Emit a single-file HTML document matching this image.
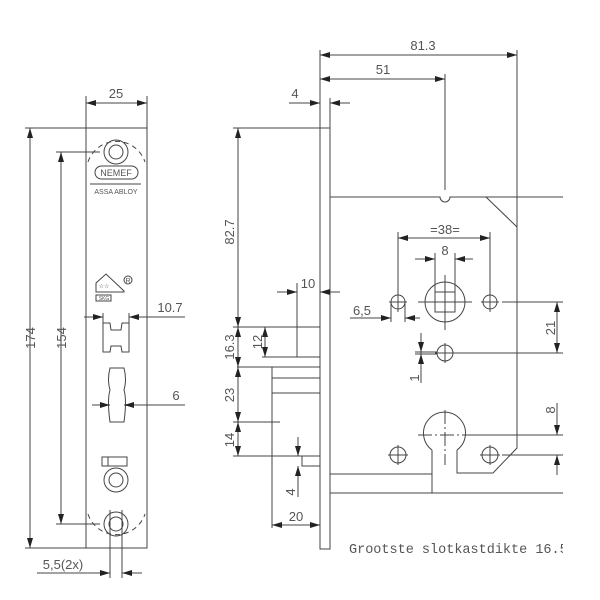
<!DOCTYPE html>
<html><head><style>body{margin:0;background:#fff}svg{display:block}</style></head><body>
<svg width="600" height="600" viewBox="0 0 600 600" xmlns="http://www.w3.org/2000/svg">
<defs>
<marker id="a" viewBox="0 0 10 6" refX="10" refY="3" markerWidth="10" markerHeight="6" orient="auto-start-reverse" markerUnits="userSpaceOnUse"><path d="M0,0 L10,3 L0,6 z" fill="#222"/></marker>
</defs>
<g stroke="#444" stroke-width="1" fill="none">
<rect x="86" y="128" width="61" height="420"/>
<path d="M88,162 A30,30 0 0 1 145,162" stroke-dasharray="5,4"/>
<path d="M88,514 A30,30 0 0 0 145,514" stroke-dasharray="5,4"/>
<circle cx="116" cy="152" r="12"/><circle cx="116" cy="152" r="7"/>
<rect x="95" y="166" width="43" height="13" rx="6.5"/>
<line x1="90" y1="184" x2="141" y2="184"/>
<path d="M96,292 L96,283 L106,274 L124,291 L124,292 Z"/>
<rect x="96" y="295" width="15" height="6"/>
<circle cx="128" cy="280" r="4"/>
<path d="M103,323 L110,323 L111,330 L121,330 L122,323 L129,323 L129,352 L122,352 L121,346 L111,346 L110,352 L103,352 Z"/>
<path d="M110,368 L124,368 Q127,380 124,390 Q127,400 124,422 L110,422 Q107,400 110,390 Q107,380 110,368 Z"/>
<rect x="102" y="457" width="25" height="9"/><line x1="108" y1="457" x2="108" y2="466"/>
<circle cx="116" cy="480" r="12"/><circle cx="116" cy="480" r="7"/>
<circle cx="116" cy="524" r="12"/><circle cx="116" cy="524" r="7"/>
<line x1="86" y1="96" x2="86" y2="128"/><line x1="147" y1="96" x2="147" y2="128"/>
<line x1="86" y1="103" x2="147" y2="103" marker-start="url(#a)" marker-end="url(#a)"/>
<line x1="25" y1="128" x2="86" y2="128"/><line x1="25" y1="548" x2="86" y2="548"/>
<line x1="30" y1="128" x2="30" y2="548" marker-start="url(#a)" marker-end="url(#a)"/>
<line x1="56" y1="152" x2="100" y2="152"/><line x1="56" y1="524" x2="100" y2="524"/>
<line x1="61" y1="152" x2="61" y2="524" marker-start="url(#a)" marker-end="url(#a)"/>
<line x1="103" y1="313" x2="103" y2="323"/><line x1="129" y1="313" x2="129" y2="323"/>
<line x1="84" y1="317" x2="103" y2="317" marker-end="url(#a)"/>
<line x1="185" y1="317" x2="129" y2="317" marker-end="url(#a)"/>
<line x1="92" y1="405" x2="110" y2="405" marker-end="url(#a)"/>
<line x1="185" y1="405" x2="124" y2="405" marker-end="url(#a)"/>
<line x1="110" y1="510" x2="110" y2="578"/><line x1="122" y1="510" x2="122" y2="578"/>
<line x1="37" y1="573" x2="110" y2="573" marker-end="url(#a)"/>
<line x1="142" y1="573" x2="122" y2="573" marker-end="url(#a)"/>
<rect x="320" y="128" width="10" height="421"/>
<path d="M330,197 L440,197 A5,5 0 0 0 450,197 L563,197"/>
<line x1="486" y1="197" x2="517" y2="227"/>
<path d="M517,50 L517,448 L493,473 L457,473 L457,450"/>
<path d="M432,450 A21,21 0 1 1 457,450"/>
<path d="M330,474 L432,474 L432,493"/><line x1="432" y1="450" x2="432" y2="474"/>
<line x1="330" y1="493" x2="563" y2="493"/>
<line x1="418" y1="435" x2="472" y2="435" stroke-dasharray="14,3,2,3"/>
<line x1="445" y1="410" x2="445" y2="465" stroke-dasharray="14,3,2,3"/>
<circle cx="445" cy="302" r="20"/><rect x="435" y="292" width="20" height="20"/>
<line x1="418" y1="302" x2="472" y2="302"/><line x1="445" y1="275" x2="445" y2="330"/>
<circle cx="398" cy="302" r="7"/><line x1="389" y1="302" x2="407" y2="302"/><line x1="398" y1="292" x2="398" y2="312"/>
<circle cx="490" cy="302" r="7"/><line x1="481" y1="302" x2="499" y2="302"/><line x1="490" y1="292" x2="490" y2="312"/>
<circle cx="445" cy="353" r="8"/><line x1="435" y1="353" x2="455" y2="353"/><line x1="445" y1="343" x2="445" y2="363"/>
<circle cx="398" cy="455" r="8"/><line x1="388" y1="455" x2="408" y2="455"/><line x1="398" y1="445" x2="398" y2="465"/>
<circle cx="490" cy="455" r="8"/><line x1="480" y1="455" x2="500" y2="455"/><line x1="490" y1="445" x2="490" y2="465"/>
<rect x="297" y="327" width="23" height="30"/>
<line x1="233" y1="327" x2="320" y2="327"/><line x1="262" y1="357" x2="320" y2="357"/>
<line x1="237" y1="367" x2="320" y2="367"/>
<line x1="272" y1="367" x2="272" y2="528"/>
<line x1="272" y1="378" x2="320" y2="378"/><line x1="272" y1="393" x2="320" y2="393"/>
<line x1="233" y1="422" x2="280" y2="422"/><line x1="233" y1="456" x2="320" y2="456"/>
<rect x="302" y="456" width="18" height="10"/>
<line x1="320" y1="50" x2="320" y2="128"/><line x1="330" y1="98" x2="330" y2="128"/>
<line x1="320" y1="55" x2="517" y2="55" marker-start="url(#a)" marker-end="url(#a)"/>
<line x1="445" y1="74" x2="445" y2="190"/>
<line x1="320" y1="79" x2="445" y2="79" marker-start="url(#a)" marker-end="url(#a)"/>
<line x1="289" y1="103" x2="320" y2="103" marker-end="url(#a)"/>
<line x1="350" y1="103" x2="330" y2="103" marker-end="url(#a)"/>
<line x1="233" y1="128" x2="320" y2="128"/>
<line x1="238" y1="128" x2="238" y2="327" marker-start="url(#a)" marker-end="url(#a)"/>
<line x1="398" y1="232" x2="398" y2="292"/><line x1="490" y1="232" x2="490" y2="292"/>
<line x1="398" y1="238" x2="490" y2="238" marker-start="url(#a)" marker-end="url(#a)"/>
<line x1="435" y1="253" x2="435" y2="292"/><line x1="455" y1="253" x2="455" y2="292"/>
<line x1="415" y1="259" x2="435" y2="259" marker-end="url(#a)"/>
<line x1="473" y1="259" x2="455" y2="259" marker-end="url(#a)"/>
<line x1="391" y1="302" x2="391" y2="322"/><line x1="405" y1="302" x2="405" y2="322"/>
<line x1="350" y1="318" x2="391" y2="318" marker-end="url(#a)"/>
<line x1="420" y1="318" x2="405" y2="318" marker-end="url(#a)"/>
<line x1="502" y1="302" x2="563" y2="302"/><line x1="455" y1="353" x2="563" y2="353"/>
<line x1="557" y1="302" x2="557" y2="353" marker-start="url(#a)" marker-end="url(#a)"/>
<line x1="421" y1="333" x2="421" y2="383"/>
<line x1="415" y1="352" x2="437" y2="352"/><line x1="415" y1="354" x2="437" y2="354"/>
<line x1="421" y1="337" x2="421" y2="352" marker-end="url(#a)"/>
<line x1="421" y1="370" x2="421" y2="354" marker-end="url(#a)"/>
<line x1="472" y1="435" x2="563" y2="435"/><line x1="502" y1="455" x2="563" y2="455"/>
<line x1="557" y1="403" x2="557" y2="435" marker-end="url(#a)"/>
<line x1="557" y1="475" x2="557" y2="455" marker-end="url(#a)"/>
<line x1="297" y1="283" x2="297" y2="327"/><line x1="320" y1="283" x2="320" y2="327"/>
<line x1="277" y1="292" x2="297" y2="292" marker-end="url(#a)"/>
<line x1="340" y1="292" x2="320" y2="292" marker-end="url(#a)"/>
<line x1="238" y1="327" x2="238" y2="367" marker-start="url(#a)" marker-end="url(#a)"/>
<line x1="265" y1="327" x2="265" y2="357" marker-start="url(#a)" marker-end="url(#a)"/>
<line x1="238" y1="367" x2="238" y2="422" marker-start="url(#a)" marker-end="url(#a)"/>
<line x1="238" y1="422" x2="238" y2="456" marker-start="url(#a)" marker-end="url(#a)"/>
<line x1="298" y1="437" x2="298" y2="456" marker-end="url(#a)"/>
<line x1="298" y1="497" x2="298" y2="466" marker-end="url(#a)"/>
<line x1="320" y1="466" x2="320" y2="528"/>
<line x1="272" y1="525" x2="320" y2="525" marker-start="url(#a)" marker-end="url(#a)"/>
</g>
<g font-family="Liberation Sans, sans-serif" font-size="13" fill="#555" text-anchor="middle">
<text x="116" y="98">25</text>
<text x="170" y="312">10.7</text>
<text x="176" y="400">6</text>
<text x="63" y="569">5,5(2x)</text>
<text transform="translate(35,338) rotate(-90)">174</text>
<text transform="translate(66,338) rotate(-90)">154</text>
<text x="116" y="176" font-size="9">NEMEF</text>
<text x="116" y="194" font-size="7">ASSA ABLOY</text>
<text x="104" y="300" font-size="5">SKG</text>
<text x="128" y="283" font-size="7">R</text>
<text x="104" y="288" font-size="6">☆☆</text>
<text x="423" y="50">81.3</text>
<text x="383" y="74">51</text>
<text x="295" y="98">4</text>
<text transform="translate(234,232) rotate(-90)">82.7</text>
<text x="445" y="234">=38=</text>
<text x="445" y="255">8</text>
<text x="362" y="315">6,5</text>
<text x="308" y="288">10</text>
<text transform="translate(234,347) rotate(-90)">16.3</text>
<text transform="translate(262,342) rotate(-90)">12</text>
<text transform="translate(234,395) rotate(-90)">23</text>
<text transform="translate(234,440) rotate(-90)">14</text>
<text transform="translate(295,492) rotate(-90)">4</text>
<text x="296" y="521">20</text>
<text transform="translate(555,328) rotate(-90)">21</text>
<text transform="translate(419,378) rotate(-90)">1</text>
<text transform="translate(555,410) rotate(-90)">8</text>
</g>
<svg x="0" y="0" width="563" height="600"><text x="349" y="553" font-family="Liberation Mono, monospace" font-size="13.5" fill="#555">Grootste slotkastdikte 16.5</text></svg>
</svg>
</body></html>
